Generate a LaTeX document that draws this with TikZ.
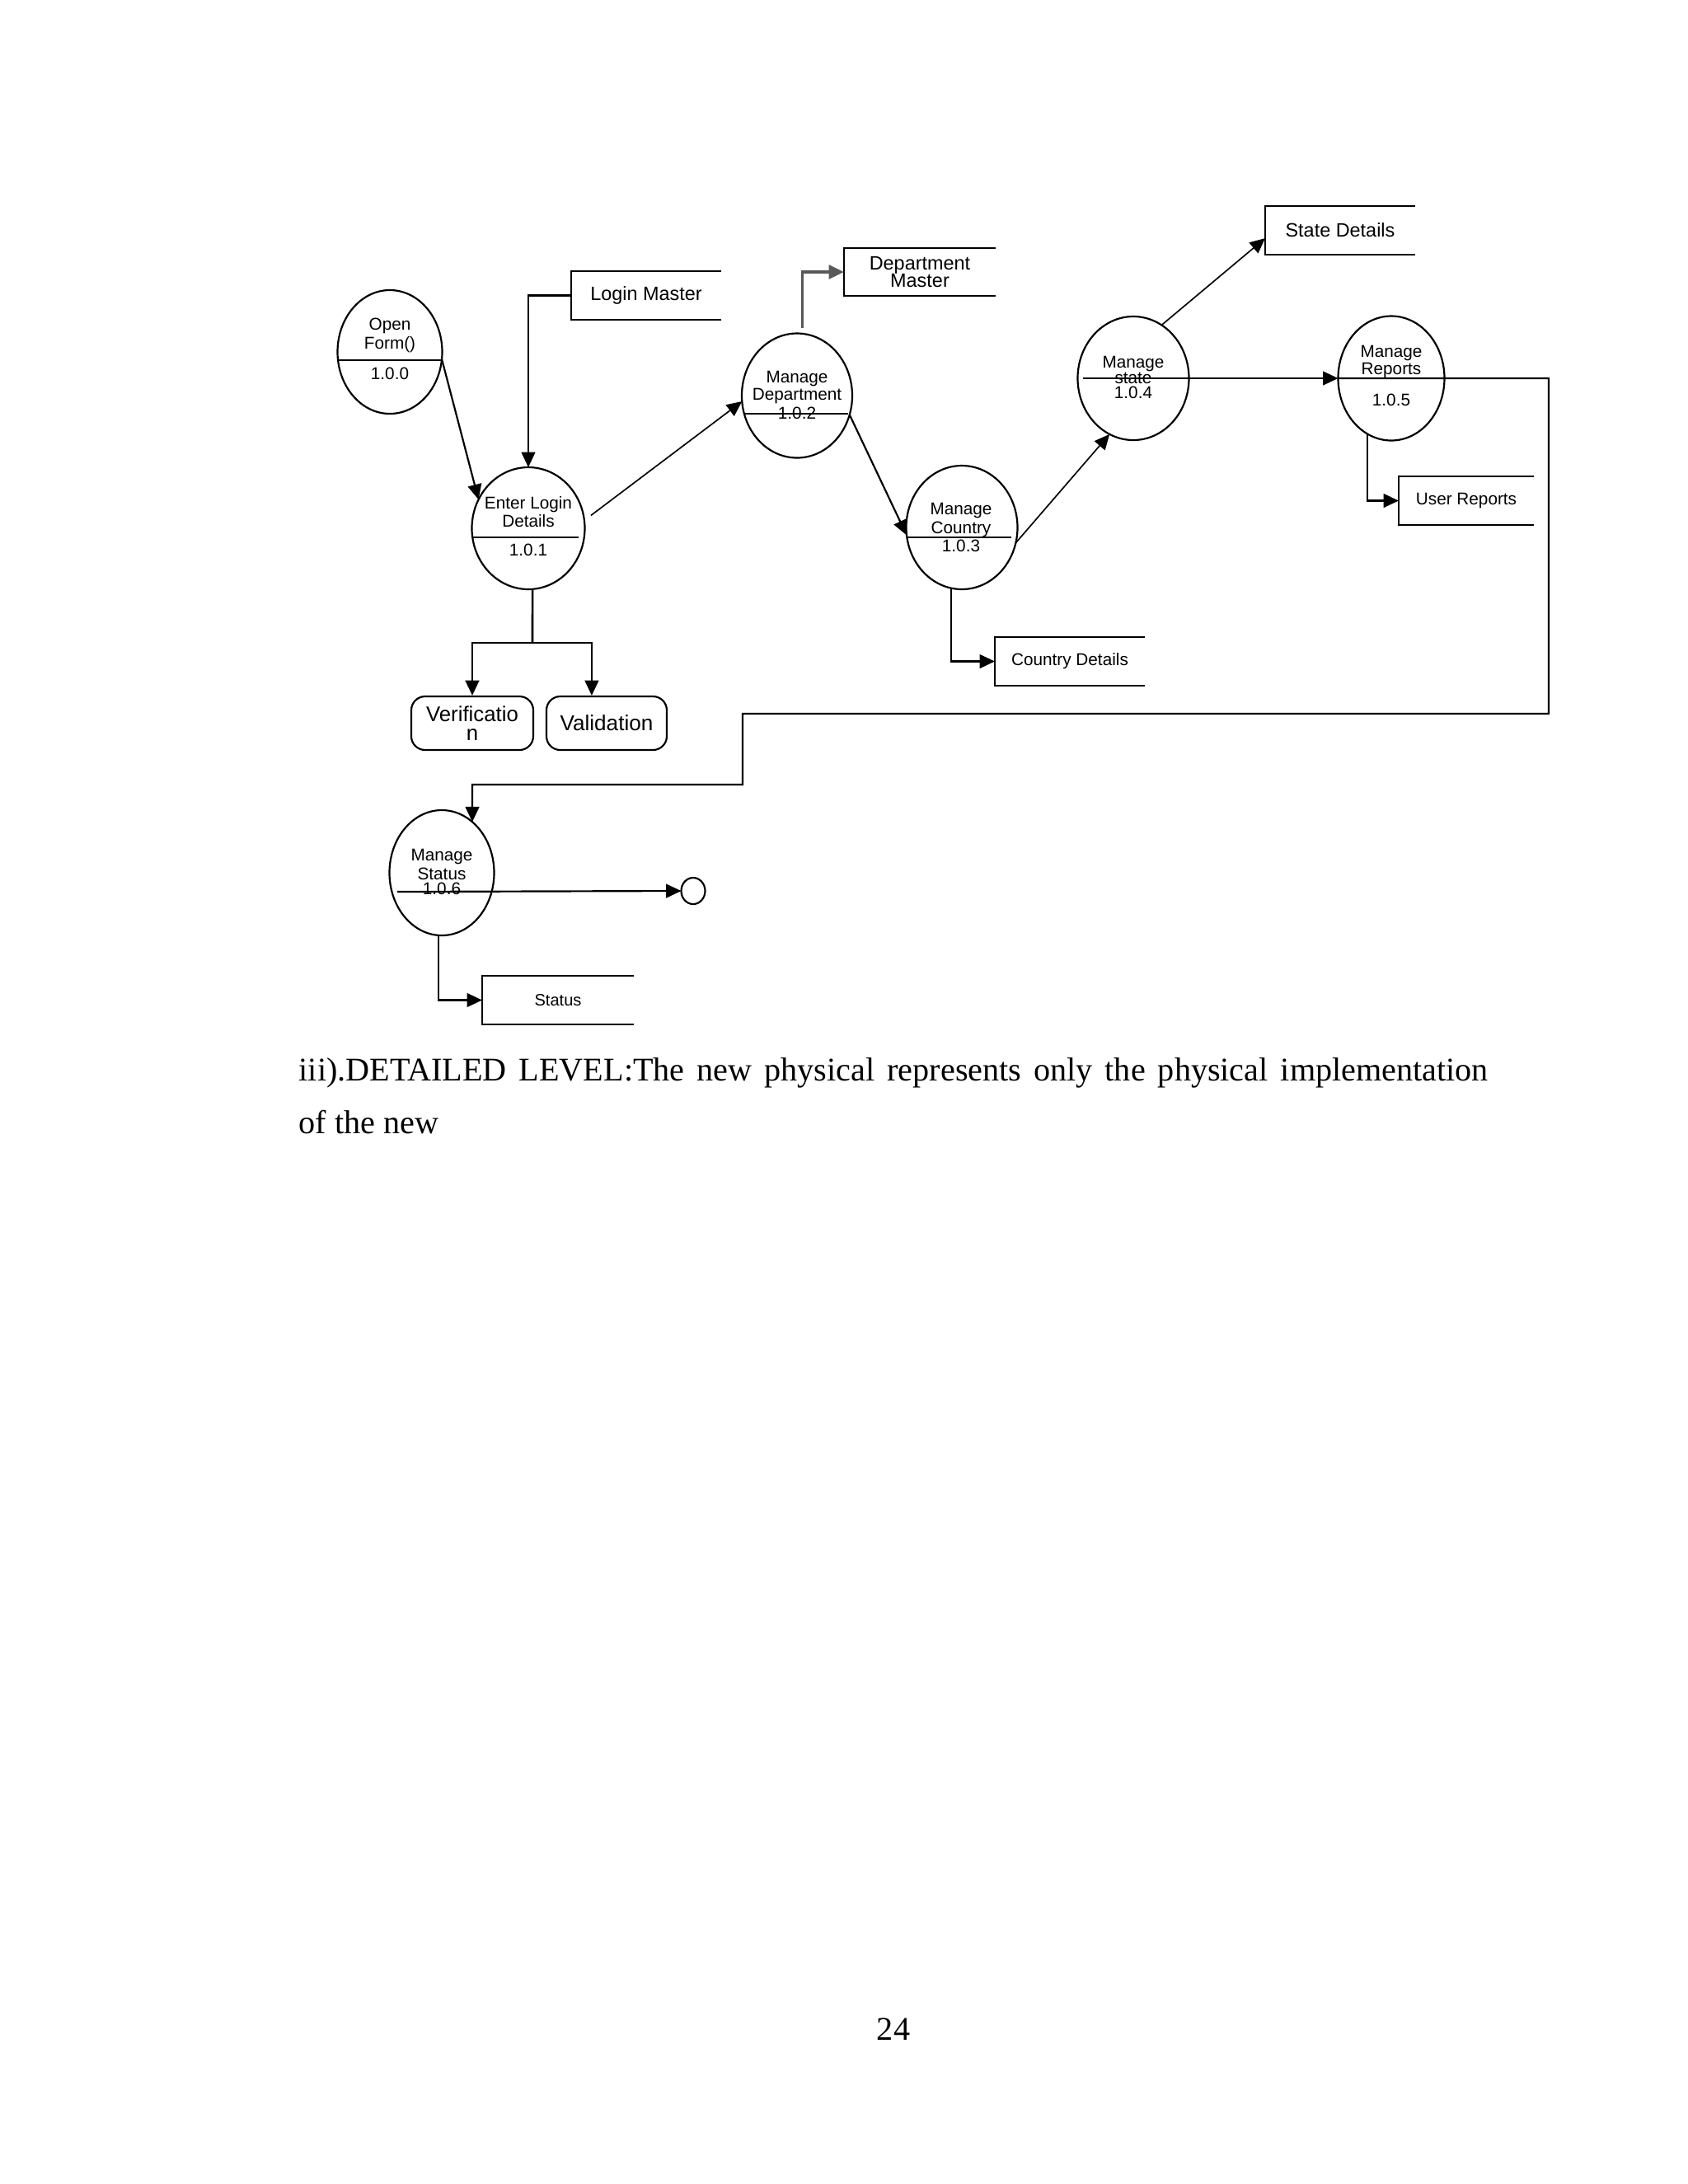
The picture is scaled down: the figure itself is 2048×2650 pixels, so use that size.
\documentclass[tikz,border=0pt]{standalone}
\usepackage{fontspec}
\setmainfont{Liberation Serif}
\newfontfamily\arialf{Liberation Sans}
\usetikzlibrary{shapes.geometric,arrows.meta,calc}
\newcommand\pu[1]{#1*0.2988pt}
\newcommand\sfs[2]{\arialf\fontsize{#1}{#2}\selectfont}
\tikzset{
  proc/.style={ellipse, draw, line width=0.65pt, inner sep=0pt, outer sep=0pt},
  store/.style={rectangle, inner sep=0pt, outer sep=0pt, align=center},
  storeline/.style={line width=0.65pt},
  divline/.style={line width=0.65pt},
  flow/.style={line width=0.65pt, -{Triangle[length=5.5pt,width=5pt]}},
  rbox/.style={rectangle, draw, rounded corners=5pt, line width=0.65pt, inner sep=0pt, align=center},
  ptxt/.style={align=center, inner sep=0pt},
}
\begin{document}
\begin{tikzpicture}[x=0.2988pt, y=-0.2988pt]
\useasboundingbox (0,0) rectangle (2048,2650);
\fill[white] (0,0) rectangle (2048,2650);

% ---- processes
\node[proc, minimum width=\pu{127}, minimum height=\pu{150}] (of) at (473,427) {};
\node[proc, minimum width=\pu{137}, minimum height=\pu{148}] (el) at (641,641) {};
\node[proc, minimum width=\pu{134}, minimum height=\pu{151}] (md) at (967,480) {};
\node[proc, minimum width=\pu{135}, minimum height=\pu{150}] (mc) at (1167,640) {};
\node[proc, minimum width=\pu{135}, minimum height=\pu{150}] (ms) at (1375,459) {};
\node[proc, minimum width=\pu{129}, minimum height=\pu{151}] (mr) at (1688,459) {};
\node[proc, minimum width=\pu{127}, minimum height=\pu{152}] (mst) at (536,1059) {};
\node[proc, minimum width=\pu{29}, minimum height=\pu{32}] (endc) at (841,1081) {};

% ---- process texts
\node[ptxt, font=\sfs{6.2}{5.4}] (oft) at (473,407) {Open\\Form()};
\node[ptxt, font=\sfs{6.2}{5.4}] (ofn) at (473,453) {1.0.0};
\node[ptxt, font=\sfs{6.2}{5.4}] (elt) at (641,621) {Enter Login\\Details};
\node[ptxt, font=\sfs{6.2}{5.4}] (eln) at (641,667) {1.0.1};
\node[ptxt, font=\sfs{6.2}{5.4}] (mdt) at (967,479) {Manage\\Department\\1.0.2};
\node[ptxt, font=\sfs{6.2}{5.4}] (mct) at (1166,640) {Manage\\Country\\1.0.3};
\node[ptxt, font=\sfs{6.2}{5.4}] (mst2) at (1375,458) {Manage\\state\\1.0.4};
\node[ptxt, font=\sfs{6.2}{5.4}] (mrt) at (1688,439) {Manage\\Reports};
\node[ptxt, font=\sfs{6.2}{5.4}] (mrn) at (1688,485) {1.0.5};
\node[ptxt, font=\sfs{6.2}{5.4}] (mstt) at (536,1058) {Manage\\Status\\1.0.6};

% ---- dividers
\draw[divline] (410,437) -- (536,437);
\draw[divline] (573,652) -- (702,652);
\draw[divline] (902,502) -- (1029,502);
\draw[divline] (1100,652) -- (1227,652);

% ---- data stores
\node[store, minimum width=\pu{182}, minimum height=\pu{59}, font=\sfs{7}{8}] (lm) at (784,358.5) {Login Master};
\node[store, minimum width=\pu{184}, minimum height=\pu{58}, font=\sfs{7}{6.3}] (dm) at (1116,330) {Department\\Master};
\node[store, minimum width=\pu{182}, minimum height=\pu{59}, font=\sfs{7}{8}] (sd) at (1626,279.5) {State Details};
\node[store, minimum width=\pu{164}, minimum height=\pu{59}, font=\sfs{6.2}{7}] (ur) at (1779,607.5) {User Reports};
\node[store, minimum width=\pu{182}, minimum height=\pu{59}, font=\sfs{6.2}{7}] (cd) at (1298,802.5) {Country Details};
\node[store, minimum width=\pu{184}, minimum height=\pu{59}, font=\sfs{6}{7}] (st) at (677,1213.5) {Status};
\foreach \n in {lm,dm,sd,ur,cd,st}
  \draw[storeline] (\n.north east) -- (\n.north west) -- (\n.south west) -- (\n.south east);

% ---- rounded boxes
\node[rbox, minimum width=\pu{148}, minimum height=\pu{65}, font=\sfs{7.7}{6.9}] (ver) at (573,877.5) {Verificatio\\n};
\node[rbox, minimum width=\pu{146}, minimum height=\pu{65}, font=\sfs{7.8}{7}] (val) at (736,877.5) {Validation};

% ---- helper coordinates
\coordinate (j) at (646,780);
\coordinate (k1) at (1879,459);
\coordinate (k2) at (901,866);
\coordinate (k3) at (573,952);
\coordinate (d6) at (482,1082);

% ---- flows
\draw[flow] (of.-8) -- (el.150);
\draw[flow] (lm.west) -| (el.north);
\draw[flow, line width=0.5pt, shorten <=3pt] (el.8) -- (md.186);
\draw[flow, line width=1pt, black!65, shorten <=2pt] (md.85) |- (dm.west);
\draw[flow] (md.-20) -- (mc.188);
\draw[flow, line width=0.5pt] (mc.-16) -- (ms.247);
\draw[flow, line width=0.5pt] (ms.62) -- (sd.186);
\draw[flow] ([xshift=2pt]ms.west) -- (mr.west);
\draw[flow] (mr.247) |- (ur.west);
\draw[flow] (mc.-100) |- (cd.west);
\draw[flow] (mr.west) -- (k1) |- (k2) |- (k3) -- (mst.59);
\draw[line width=0.8pt] (el.-86) -- (j);
\draw[flow, line width=0.8pt] (j) -| (ver.north);
\draw[flow, line width=0.8pt] (j) -| ([xshift=-5.4pt]val.north);
\draw[flow] (d6) -- (endc.west);
\draw[flow] (mst.-93) |- (st.west);

% ---- body text
\node[anchor=base west, inner sep=0pt, font=\fontsize{12}{14}\selectfont] (p1) at (362,1311)
  {\makebox[431.2pt][s]{iii).DETAILED LEVEL:The new physical represents only the physical implementation}};
\node[anchor=base west, inner sep=0pt, font=\fontsize{12}{14}\selectfont] (p2) at (362,1375) {of the new};
\node[anchor=base, inner sep=0pt, font=\fontsize{12}{14}\selectfont] (pg) at (1084,2475) {24};
\end{tikzpicture}
\end{document}
